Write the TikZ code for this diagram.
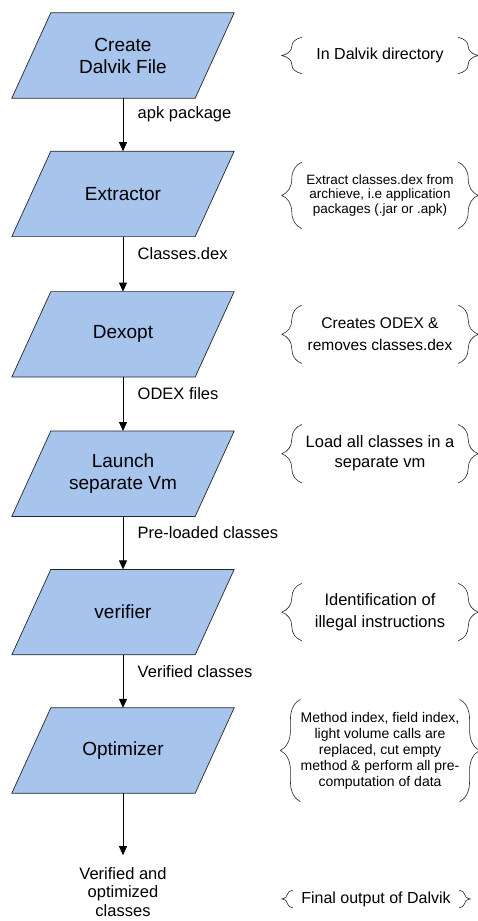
\documentclass[tikz,border=0pt]{standalone}
\usepackage{fontspec}
\setmainfont{Liberation Sans}
\usetikzlibrary{arrows.meta, positioning, backgrounds, decorations.pathreplacing}
\definecolor{stepblue}{RGB}{166,196,236}

\begin{document}
\begin{tikzpicture}[
    node distance=53pt,
    >={Triangle[length=9pt, width=8pt]},
    every node/.style={align=center},
    stepbox/.style={minimum width=222pt, minimum height=85pt,
        font=\fontsize{19}{22}\selectfont},
    stepshape/.style={draw=black!85, line width=0.7pt, fill=stepblue},
    flow/.style={->, line width=0.8pt},
    flowlabel/.style={right=11pt, pos=0.31, font=\fontsize{16.5}{19.5}\selectfont},
    note/.style={minimum width=156pt, inner sep=0pt},
    brace/.style={decorate, decoration={brace, amplitude=20pt},
        line width=0.6pt, black!85}
]
\useasboundingbox (0,0) rectangle (478pt,-921pt);

%-------------------------------
% 1) Main steps (vertical)
%-------------------------------
\node[stepbox] (create) at (123pt,-55.5pt) {Create\\Dalvik File};
\node[stepbox, below=of create] (extractor) {Extractor};
\node[stepbox, below=55pt of extractor] (dexopt) {Dexopt};
\node[stepbox, below=54pt of dexopt] (launch) {Launch\\separate Vm};
\node[stepbox, below=of launch] (verifier) {verifier};
\node[stepbox, below=of verifier] (optimizer) {Optimizer};
\node[below=74pt of optimizer, inner sep=0pt,
      font=\fontsize{16.5}{18.5}\selectfont] (output)
      {Verified and\\optimized\\classes};

% parallelograms behind the step texts
\begin{scope}[on background layer]
\draw[stepshape] (create.south west) -- ([xshift=-39pt]create.south east)
    -- (create.north east) -- ([xshift=39pt]create.north west) -- cycle;
\draw[stepshape] (extractor.south west) -- ([xshift=-39pt]extractor.south east)
    -- (extractor.north east) -- ([xshift=39pt]extractor.north west) -- cycle;
\draw[stepshape] (dexopt.south west) -- ([xshift=-39pt]dexopt.south east)
    -- (dexopt.north east) -- ([xshift=39pt]dexopt.north west) -- cycle;
\draw[stepshape] (launch.south west) -- ([xshift=-39pt]launch.south east)
    -- (launch.north east) -- ([xshift=39pt]launch.north west) -- cycle;
\draw[stepshape] (verifier.south west) -- ([xshift=-39pt]verifier.south east)
    -- (verifier.north east) -- ([xshift=39pt]verifier.north west) -- cycle;
\draw[stepshape] (optimizer.south west) -- ([xshift=-39pt]optimizer.south east)
    -- (optimizer.north east) -- ([xshift=39pt]optimizer.north west) -- cycle;
\end{scope}

%-------------------------------
% 2) Arrows between the steps
%-------------------------------
\draw[flow] (create) -- node[flowlabel] {apk package} (extractor);
\draw[flow] (extractor) -- node[flowlabel] {Classes.dex} (dexopt);
\draw[flow] (dexopt) -- node[flowlabel] {ODEX files} (launch);
\draw[flow] (launch) -- node[flowlabel] {Pre-loaded classes} (verifier);
\draw[flow] (verifier) -- node[flowlabel] {Verified classes} (optimizer);
\draw[flow, shorten >=12pt] (optimizer) -- (output);

%-------------------------------
% 3) Notes on the right
%-------------------------------
\coordinate (notecol) at (380pt,0);

\node[note, minimum height=36pt, font=\fontsize{16}{19}\selectfont] (dirnote)
      at (create -| notecol) {In Dalvik directory};
\node[note, minimum height=66pt, font=\fontsize{13.5}{14.5}\selectfont,
      yshift=-1.5pt] (extractnote) at (extractor -| notecol)
      {Extract classes.dex from\\archieve, i.e application\\packages (.jar or .apk)};
\node[note, minimum height=58pt, font=\fontsize{15.5}{22}\selectfont] (dexoptnote)
      at (dexopt -| notecol) {Creates ODEX \&\\removes classes.dex};
\node[note, minimum height=58pt, font=\fontsize{16.5}{20}\selectfont,
      yshift=20pt] (launchnote) at (launch -| notecol)
      {Load all classes in a\\separate vm};
\node[note, minimum height=57pt, font=\fontsize{16.5}{22}\selectfont] (verifynote)
      at (verifier -| notecol) {Identification of\\illegal instructions};
\node[note, minimum height=102pt, font=\fontsize{14}{16}\selectfont] (optnote)
      at (optimizer -| notecol)
      {Method index, field index,\\light volume calls are\\replaced, cut empty\\method \& perform all pre-\\computation of data};
\node[note, minimum width=166pt, minimum height=17pt,
      font=\fontsize{16}{19}\selectfont, xshift=-4pt, yshift=-7pt] (finalnote)
      at (output -| notecol) {Final output of Dalvik};

%-------------------------------
% 4) Braces round the notes
%-------------------------------
\draw[brace] (dirnote.south west) -- (dirnote.north west);
\draw[brace] (dirnote.north east) -- (dirnote.south east);
\draw[brace] (extractnote.south west) -- (extractnote.north west);
\draw[brace] (extractnote.north east) -- (extractnote.south east);
\draw[brace] (dexoptnote.south west) -- (dexoptnote.north west);
\draw[brace] (dexoptnote.north east) -- (dexoptnote.south east);
\draw[brace] (launchnote.south west) -- (launchnote.north west);
\draw[brace] (launchnote.north east) -- (launchnote.south east);
\draw[brace] (verifynote.south west) -- (verifynote.north west);
\draw[brace] (verifynote.north east) -- (verifynote.south east);
\draw[brace] (optnote.south west) -- (optnote.north west);
\draw[brace] (optnote.north east) -- (optnote.south east);
\draw[brace, decoration={amplitude=11pt}] (finalnote.south west) -- (finalnote.north west);
\draw[brace, decoration={amplitude=11pt}] (finalnote.north east) -- (finalnote.south east);

\end{tikzpicture}
\end{document}
